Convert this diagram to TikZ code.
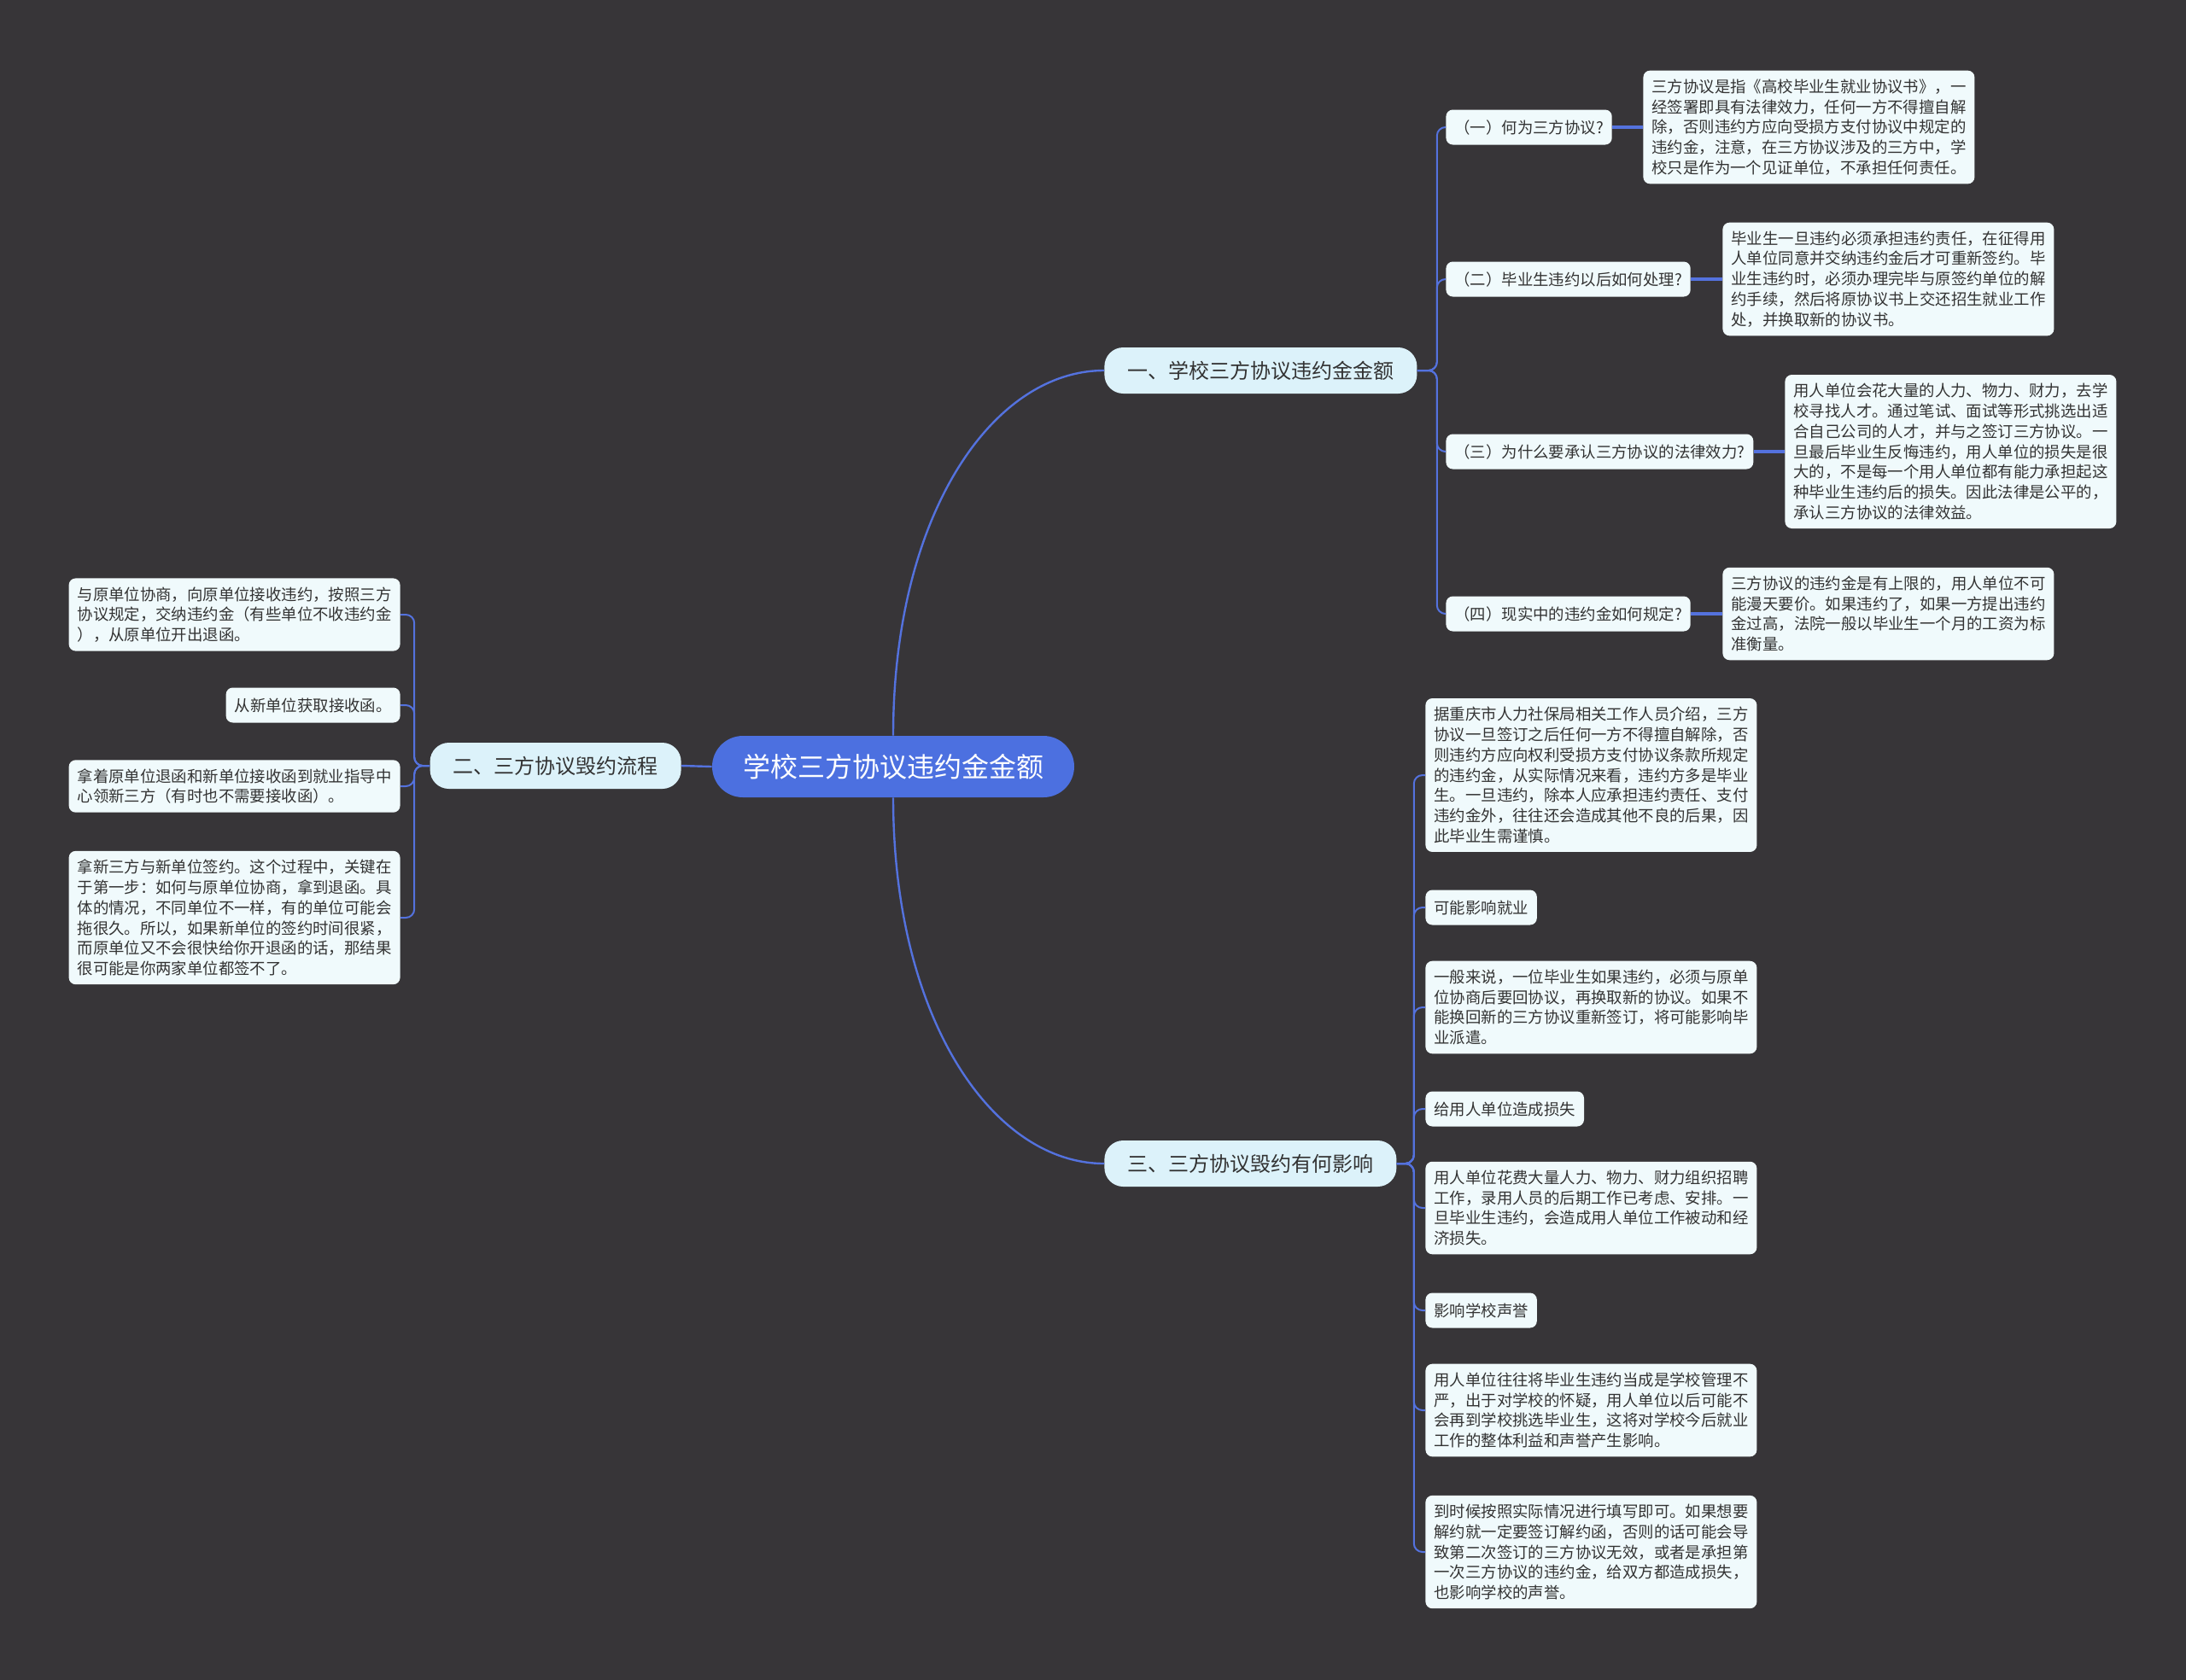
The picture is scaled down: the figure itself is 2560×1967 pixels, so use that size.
\documentclass[tikz,border=0pt]{standalone}
\usepackage{fontspec}
\newfontfamily\cjk{Noto Sans CJK SC}
\usepackage{tikz}
\usetikzlibrary{calc}
\definecolor{mapbg}{RGB}{55,53,56}
\definecolor{mapblue}{RGB}{76,112,224}
\definecolor{mapline}{RGB}{84,114,222}
\definecolor{branchfill}{RGB}{220,242,250}
\definecolor{notefill}{RGB}{240,250,252}
\definecolor{maptext}{RGB}{51,51,51}

\begin{document}
\begin{tikzpicture}[x=0.5pt,y=-0.5pt,
  rootnode/.style={fill=mapblue,text=white,rounded corners=18pt,font=\cjk\fontsize{16}{19}\selectfont,
    minimum height=36pt,minimum width=211pt,inner xsep=18pt,inner ysep=8pt},
  branchnode/.style={fill=branchfill,text=maptext,rounded corners=11pt,font=\cjk\fontsize{12}{14}\selectfont,
    minimum height=27pt,inner xsep=13.5pt,inner ysep=6pt},
  tagnode/.style={fill=notefill,text=maptext,rounded corners=4pt,font=\cjk\fontsize{9.2}{11.9}\selectfont,
    minimum height=20.5pt,inner xsep=5pt,inner ysep=5pt},
  notenode/.style={tagnode,text width=184pt,align=left},
  trunk/.style={mapline,line width=1.2pt},
  twig/.style={mapline,line width=1pt,rounded corners=5pt},
  stem/.style={mapline,line width=2pt}]
  \useasboundingbox (0,0) rectangle (2560,1967);
  \fill[mapbg] (-20,-20) rectangle (2580,1990);

  % centre and main branches
  \node[rootnode] (root) at (1046,898) {学校三方协议违约金金额};
  \node[branchnode,anchor=west] (b1) at (1293,434) {一、学校三方协议违约金金额};
  \node[branchnode,anchor=east] (b2) at (798,897) {二、三方协议毁约流程};
  \node[branchnode,anchor=west] (b3) at (1293,1363) {三、三方协议毁约有何影响};

  % branch one: questions and answers
  \node[tagnode,anchor=west] (q1) at (1693,149) {（一）何为三方协议?};
  \node[tagnode,anchor=west] (q2) at (1693,327) {（二）毕业生违约以后如何处理?};
  \node[tagnode,anchor=west] (q3) at (1693,529) {（三）为什么要承认三方协议的法律效力?};
  \node[tagnode,anchor=west] (q4) at (1693,719) {（四）现实中的违约金如何规定?};
  \node[notenode,anchor=west] (a1) at (1924,149) {三方协议是指《高校毕业生就业协议书》，一\\经签署即具有法律效力，任何一方不得擅自解\\除，否则违约方应向受损方支付协议中规定的\\违约金，注意，在三方协议涉及的三方中，学\\校只是作为一个见证单位，不承担任何责任。};
  \node[notenode,anchor=west] (a2) at (2017,327) {毕业生一旦违约必须承担违约责任，在征得用\\人单位同意并交纳违约金后才可重新签约。毕\\业生违约时，必须办理完毕与原签约单位的解\\约手续，然后将原协议书上交还招生就业工作\\处，并换取新的协议书。};
  \node[notenode,anchor=west] (a3) at (2090,529) {用人单位会花大量的人力、物力、财力，去学\\校寻找人才。通过笔试、面试等形式挑选出适\\合自己公司的人才，并与之签订三方协议。一\\旦最后毕业生反悔违约，用人单位的损失是很\\大的，不是每一个用人单位都有能力承担起这\\种毕业生违约后的损失。因此法律是公平的，\\承认三方协议的法律效益。};
  \node[notenode,anchor=west] (a4) at (2017,719) {三方协议的违约金是有上限的，用人单位不可\\能漫天要价。如果违约了，如果一方提出违约\\金过高，法院一般以毕业生一个月的工资为标\\准衡量。};

  % branch two: steps
  \node[notenode,anchor=east] (p1) at (469,720) {与原单位协商，向原单位接收违约，按照三方\\协议规定，交纳违约金（有些单位不收违约金\\），从原单位开出退函。};
  \node[tagnode,anchor=east] (p2) at (469,826) {从新单位获取接收函。};
  \node[notenode,anchor=east] (p3) at (469,921) {拿着原单位退函和新单位接收函到就业指导中\\心领新三方（有时也不需要接收函）。};
  \node[notenode,anchor=east] (p4) at (469,1075) {拿新三方与新单位签约。这个过程中，关键在\\于第一步：如何与原单位协商，拿到退函。具\\体的情况，不同单位不一样，有的单位可能会\\拖很久。所以，如果新单位的签约时间很紧，\\而原单位又不会很快给你开退函的话，那结果\\很可能是你两家单位都签不了。};

  % branch three: effects
  \node[notenode,anchor=west] (e1) at (1669,908) {据重庆市人力社保局相关工作人员介绍，三方\\协议一旦签订之后任何一方不得擅自解除，否\\则违约方应向权利受损方支付协议条款所规定\\的违约金，从实际情况来看，违约方多是毕业\\生。一旦违约，除本人应承担违约责任、支付\\违约金外，往往还会造成其他不良的后果，因\\此毕业生需谨慎。};
  \node[tagnode,anchor=west] (e2) at (1669,1063) {可能影响就业};
  \node[notenode,anchor=west] (e3) at (1669,1180) {一般来说，一位毕业生如果违约，必须与原单\\位协商后要回协议，再换取新的协议。如果不\\能换回新的三方协议重新签订，将可能影响毕\\业派遣。};
  \node[tagnode,anchor=west] (e4) at (1669,1299) {给用人单位造成损失};
  \node[notenode,anchor=west] (e5) at (1669,1415) {用人单位花费大量人力、物力、财力组织招聘\\工作，录用人员的后期工作已考虑、安排。一\\旦毕业生违约，会造成用人单位工作被动和经\\济损失。};
  \node[tagnode,anchor=west] (e6) at (1669,1535) {影响学校声誉};
  \node[notenode,anchor=west] (e7) at (1669,1652) {用人单位往往将毕业生违约当成是学校管理不\\严，出于对学校的怀疑，用人单位以后可能不\\会再到学校挑选毕业生，这将对学校今后就业\\工作的整体利益和声誉产生影响。};
  \node[notenode,anchor=west] (e8) at (1669,1818) {到时候按照实际情况进行填写即可。如果想要\\解约就一定要签订解约函，否则的话可能会导\\致第二次签订的三方协议无效，或者是承担第\\一次三方协议的违约金，给双方都造成损失，\\也影响学校的声誉。};

  % connectors
  \draw[trunk] (root.north) .. controls +(0,-260) and +(-130,0) .. (b1.west);
  \draw[trunk] (root.south) .. controls +(0,260) and +(-130,0) .. (b3.west);
  \draw[trunk] (root.west) -- (b2.east);
  \foreach \c in {q1,q2,q3,q4}
    \draw[twig] (b1.east) -- ++(23,0) |- (\c.west);
  \foreach \c in {p1,p2,p3,p4}
    \draw[twig] (b2.west) -- ++(-18,0) |- (\c.east);
  \foreach \c in {e1,e2,e3,e4,e5,e6,e7,e8}
    \draw[twig] (b3.east) -- ++(20,0) |- (\c.west);
  \foreach \q/\a in {q1/a1,q2/a2,q3/a3,q4/a4}
    \draw[stem] (\q.east) -- (\a.west);
\end{tikzpicture}
\end{document}
